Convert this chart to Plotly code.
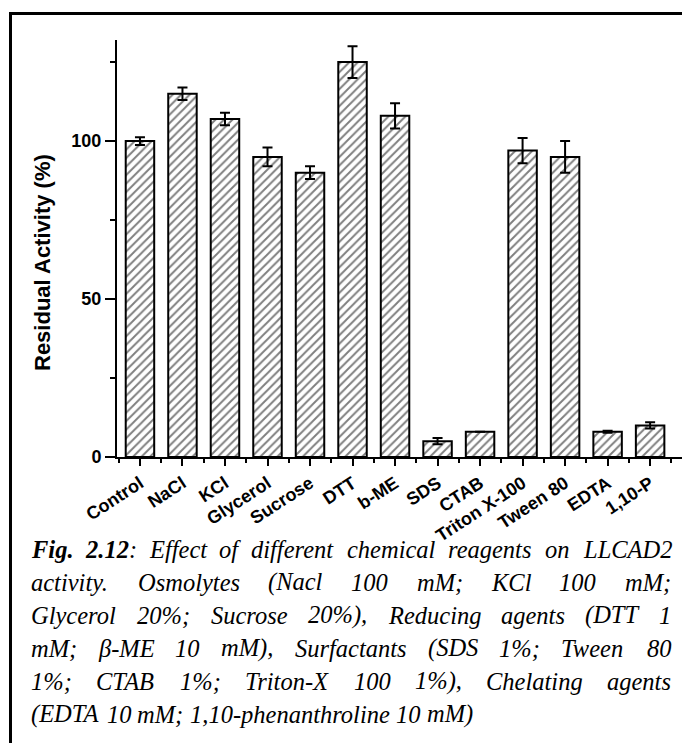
import numpy as np
import plotly.graph_objects as go

# Residual activity of the enzyme after treatment with chemical reagents
categories = ["Control", "NaCl", "KCl", "Glycerol", "Sucrose", "DTT", "b-ME",
              "SDS", "CTAB", "Triton X-100", "Tween 80", "EDTA", "1,10-P"]
activity = [100, 115, 107, 95, 90, 125, 108, 5, 8, 97, 95, 8, 10]
activity_err = [1.2, 2, 2, 3, 2, 5, 4, 1, 0, 4, 5, 0.3, 1]

y_ticks = [0, 50, 100]
y_title = "Residual Activity (%)"

caption_lines = [
    ["<b>Fig.</b>", "<b>2.12</b>:", "Effect", "of", "different", "chemical", "reagents", "on", "LLCAD2"],
    "activity. Osmolytes (Nacl 100 mM; KCl 100 mM;".split(" "),
    "Glycerol 20%; Sucrose 20%), Reducing agents (DTT 1".split(" "),
    "mM; β-ME 10 mM), Surfactants (SDS 1%; Tween 80".split(" "),
    "1%; CTAB 1%; Triton-X 100 1%), Chelating agents".split(" "),
    "(EDTA 10 mM; 1,10-phenanthroline 10 mM)".split(" "),
]

W, H = 682, 743
ML, MR, MT, MB = 117, 0, 40, 286
PW, PH = W - ML - MR, H - MT - MB


def px(x):
    return (x - ML) / PW


def py(y):
    return (H - MB - y) / PH


x = np.arange(len(categories))

fig = go.Figure()
fig.add_trace(go.Bar(
    x=x, y=activity, width=0.67,
    marker=dict(color="white",
                line=dict(color="black", width=2),
                pattern=dict(shape="/", size=6, solidity=0.32,
                             fgcolor="black", bgcolor="white")),
    error_y=dict(type="data", array=activity_err, visible=True,
                 color="black", thickness=2, width=5),
))

# Caption text, justified line by line (Times italic advance widths)
TI = {' ': 250, '!': 333, '(': 333, ')': 333, '%': 833, ',': 250, '-': 333, '.': 250,
      ':': 333, ';': 333, 'β': 500,
      'A': 611, 'B': 611, 'C': 667, 'D': 722, 'E': 611, 'F': 611, 'G': 722, 'H': 722,
      'I': 333, 'J': 444, 'K': 667, 'L': 556, 'M': 833, 'N': 667, 'O': 722, 'P': 611,
      'Q': 722, 'R': 611, 'S': 500, 'T': 556, 'U': 722, 'V': 611, 'W': 833, 'X': 611,
      'Y': 556, 'Z': 556,
      'a': 500, 'b': 500, 'c': 444, 'd': 500, 'e': 444, 'f': 278, 'g': 500, 'h': 500,
      'i': 278, 'j': 278, 'k': 444, 'l': 278, 'm': 722, 'n': 500, 'o': 500, 'p': 500,
      'q': 500, 'r': 389, 's': 389, 't': 278, 'u': 500, 'v': 444, 'w': 667, 'x': 444,
      'y': 444, 'z': 389}
TBI = {'F': 667, 'i': 278, 'g': 500, '.': 250, '2': 500, '1': 500}


def word_width(word, size):
    total = 0
    bold = False
    i = 0
    while i < len(word):
        if word.startswith("<b>", i):
            bold = True
            i += 3
            continue
        if word.startswith("</b>", i):
            bold = False
            i += 4
            continue
        ch = word[i]
        if ch.isdigit() and not bold:
            total += 500
        else:
            total += (TBI if bold else TI).get(ch, 500)
        i += 1
    return total * size / 1000


CAP_SIZE = 24.5
CAP_LEFT, CAP_RIGHT = 29, 669
CAP_TOP, CAP_STEP = 549, 33
cap_font = dict(family="Liberation Serif", size=CAP_SIZE, color="black")

annotations = []
for k, words in enumerate(caption_lines):
    yline = CAP_TOP + k * CAP_STEP
    widths = [word_width(w, CAP_SIZE) for w in words]
    last = k == len(caption_lines) - 1
    if last:
        gap = 250 * CAP_SIZE / 1000
    else:
        gap = (CAP_RIGHT - CAP_LEFT - sum(widths)) / (len(words) - 1)
    xpos = CAP_LEFT
    for w, wd in zip(words, widths):
        annotations.append(dict(
            text=f"<i>{w}</i>", x=px(xpos), y=py(yline), xref="paper", yref="paper",
            xanchor="left", yanchor="middle", showarrow=False, font=cap_font))
        xpos += wd + gap

# Vertical axis title
annotations.append(dict(
    text=f"<b>{y_title}</b>", x=px(42), y=py(263), xref="paper", yref="paper",
    xanchor="center", yanchor="middle", textangle=-90, showarrow=False,
    font=dict(family="Liberation Sans", size=22, color="black")))

# Frame around figure and caption
shapes = [
    dict(type="line", xref="paper", yref="paper", x0=px(10.5), x1=px(10.5),
         y0=py(H + 2), y1=py(12), line=dict(color="black", width=3)),
    dict(type="line", xref="paper", yref="paper", x0=px(9), x1=px(W + 2),
         y0=py(13.5), y1=py(13.5), line=dict(color="black", width=3)),
]

fig.update_layout(
    width=W, height=H,
    margin=dict(l=ML, r=MR, t=MT, b=MB),
    paper_bgcolor="white", plot_bgcolor="white",
    showlegend=False,
    annotations=annotations,
    shapes=shapes,
    font=dict(family="Liberation Sans", color="black"),
    xaxis=dict(
        range=[-0.54, 12.75],
        tickmode="array", tickvals=x, ticktext=[f"<b>{c}</b>" for c in categories],
        tickangle=-33, tickfont=dict(family="Liberation Sans", size=18, color="black"),
        showline=True, linecolor="black", linewidth=2,
        ticks="outside", ticklen=7, tickwidth=2, tickcolor="black",
        minor=dict(tickmode="linear", tick0=0.5, dtick=1, ticks="outside",
                   ticklen=4, tickwidth=2, tickcolor="black"),
        showgrid=False, zeroline=False,
    ),
    yaxis=dict(
        range=[0, 132],
        tickmode="array", tickvals=y_ticks, ticktext=[f"<b>{t}</b>" for t in y_ticks],
        tickfont=dict(family="Liberation Sans", size=18, color="black"),
        showline=True, linecolor="black", linewidth=2,
        ticks="outside", ticklen=10, tickwidth=2, tickcolor="black",
        minor=dict(tickmode="linear", tick0=25, dtick=50, ticks="outside",
                   ticklen=5, tickwidth=2, tickcolor="black"),
        showgrid=False, zeroline=False,
    ),
)

fig.write_html("out.html")
